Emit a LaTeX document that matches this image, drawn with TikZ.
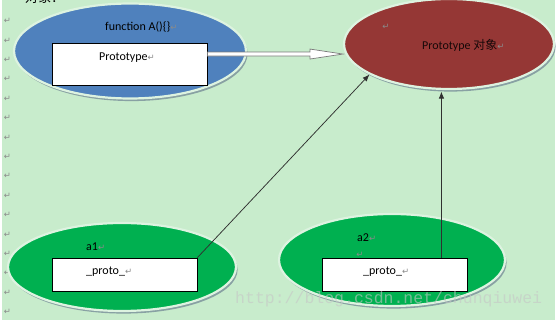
\documentclass[tikz,border=0pt]{standalone}
\usepackage{fontspec}
\setmainfont{Carlito}
\newfontfamily\cjkfont{Noto Sans CJK SC}
\newfontfamily\symfont{DejaVu Sans}
\newfontfamily\wmfont{Liberation Mono}
\usetikzlibrary{shapes.geometric,arrows.meta,calc,shadows}
\definecolor{bg}{HTML}{C8ECCC}
\definecolor{halo}{HTML}{DDF3E0}
\definecolor{shadowc}{HTML}{7D949C}
\definecolor{blueA}{HTML}{4F81BD}
\definecolor{redP}{HTML}{953735}
\definecolor{greenO}{HTML}{00B050}
\definecolor{retgray}{HTML}{8A8A8A}
\definecolor{conncol}{HTML}{303030}
\definecolor{hollow}{HTML}{7A7A7A}
\newcommand{\retmk}{{\symfont\fontsize{8.5}{8.5}\selectfont\color{retgray}↵}}
\tikzset{
  ell/.style={ellipse, draw=halo, line width=2.2pt, inner sep=0pt,
    drop shadow={shadow xshift=1.6pt, shadow yshift=-2.6pt, fill=shadowc, opacity=0.85}},
  box/.style={rectangle, draw=black, fill=white, line width=0.9pt, inner sep=0pt},
  lbl/.style={anchor=west, inner sep=0pt, font=\fontsize{12}{13}\selectfont, text=black},
  retnode/.style={inner sep=0pt, font=\symfont\fontsize{8.5}{8.5}\selectfont, text=retgray},
  conn/.style={draw=conncol, line width=0.75pt, -{Latex[length=7pt,width=5.5pt]}},
}
\begin{document}
\begin{tikzpicture}[x=1pt,y=-1pt]
\useasboundingbox (0,0) rectangle (558,320);
\clip (0,0) rectangle (558,320);
\fill[white] (0,0) rectangle (558,320);
\fill[bg] (2,0) rectangle (555,320);
% paragraph marks in the left margin
\foreach \i in {0,...,15} {
  \node[retnode] (m\i) at (7.5,{21+19.4*\i}) {↵};
}
\node[anchor=base west, inner sep=0pt, font=\cjkfont\fontsize{13}{13}\selectfont, text=black] (top) at (25,3) {对象：};
% ellipses
\node[ell, fill=blueA, minimum width=232pt, minimum height=95pt] (fnA) at (130,51) {};
\node[ell, fill=redP, minimum width=210pt, minimum height=90pt] (proto) at (449,44) {};
\node[ell, fill=greenO, minimum width=228pt, minimum height=88pt] (a1) at (122,267) {};
\node[ell, fill=greenO, minimum width=226pt, minimum height=92pt] (a2) at (392,260) {};
% texts in ellipses
\node[lbl] (tfn) at (105,27) {function A()\{\}\retmk};
\node[lbl, text=black!85!redP] (tproto) at (422,45) {Prototype {\cjkfont 对象}\retmk};
\node[retnode] (rp) at (386,27) {↵};
\node[lbl] (ta1) at (86,247) {a1\retmk};
\node[lbl] (ta2) at (357,238) {a2\retmk};
\node[retnode] (ra2) at (360,255) {↵};
% boxes
\node[box, minimum width=155pt, minimum height=42pt] (boxA) at (129.5,64) {};
\node[box, minimum width=145pt, minimum height=33pt] (box1) at (124.5,274.5) {};
\node[box, minimum width=145pt, minimum height=33pt] (box2) at (394.5,274.5) {};
\node[lbl] (tpA) at (99,58) {Prototype\retmk};
\node[lbl] (tp1) at (86,272) {\_proto\_\retmk};
\node[lbl] (tp2) at (363,272) {\_proto\_\retmk};
% hollow arrow from Prototype box to Prototype object
\coordinate (hs) at ($(boxA.north east)+(0,11.5)$);
\coordinate (tip) at (hs -| proto.west);
\filldraw[fill=white, draw=hollow, line width=0.7pt]
  ($(hs)+(0,-2)$) -- ($(tip)+(-33,-2)$) -- ($(tip)+(-33,-5)$) -- (tip)
  -- ($(tip)+(-33,5)$) -- ($(tip)+(-33,2)$) -- ($(hs)+(0,2)$) -- cycle;
% connectors from instances
\draw[conn] (box1.north east) -- (proto.201);
\coordinate (s2) at ($(box2.north east)+(-26,0)$);
\draw[conn, shorten >=1.5pt] (s2) -- (s2 |- proto.south);
% watermark
\node[anchor=base west, inner sep=0pt, font=\wmfont\fontsize{16.5}{16.5}\selectfont, text=gray!45, opacity=0.6] (wm) at (235,304) {http://blog.csdn.net/chunqiuwei};
\end{tikzpicture}
\end{document}
